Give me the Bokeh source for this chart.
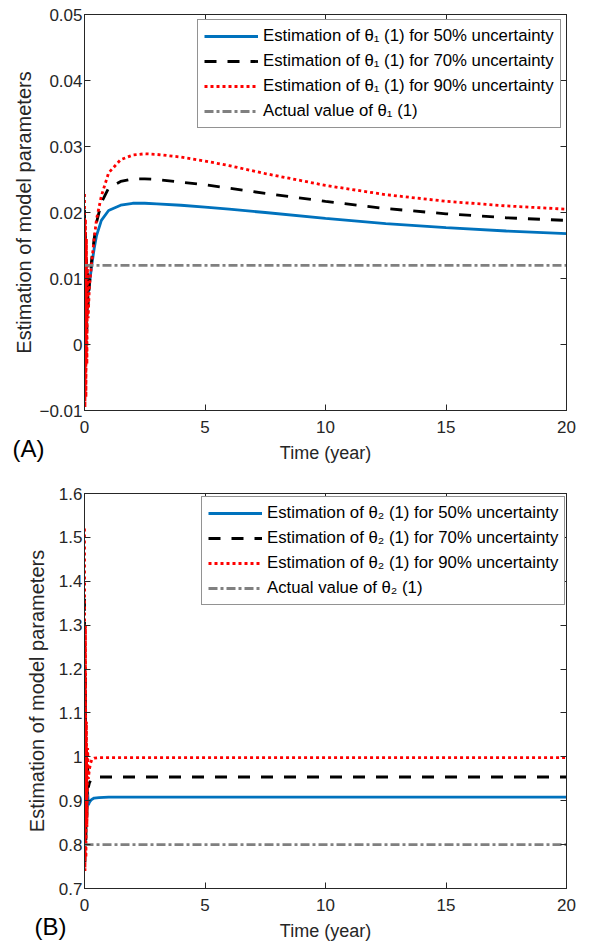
from bokeh.plotting import figure
from bokeh.models import Range1d, FixedTicker, LinearAxis, Title
from bokeh.layouts import column
from bokeh.embed import file_html
from bokeh.resources import INLINE

# ---------------- data ----------------
x_ticks = [0, 5, 10, 15, 20]

# Panel (A): theta_1(1)
t_a = [0, 0.02, 0.04, 0.06, 0.08, 0.10, 0.12, 0.15, 0.20, 0.25, 0.30, 0.40, 0.50,
       0.70, 1.0, 1.5, 2.0, 2.5, 3.0, 4.0, 5.0, 6.0, 7.5, 10.0, 12.5, 15.0, 17.5, 20.0]
blue_a = [0.0180, 0.0040, 0.0150, 0.0030, 0.0120, 0.0050, 0.0100, 0.0075, 0.0090,
          0.0105, 0.0120, 0.0145, 0.0165, 0.0188, 0.0203, 0.0211, 0.0214, 0.0214,
          0.0213, 0.0211, 0.0208, 0.0205, 0.0200, 0.0191, 0.0183, 0.0177, 0.0172, 0.0168]
black_a = [0.0204, -0.0030, 0.0170, -0.0020, 0.0130, 0.0020, 0.0110, 0.0060, 0.0090,
           0.0110, 0.0130, 0.0160, 0.0185, 0.0215, 0.0237, 0.0247, 0.0251, 0.0251,
           0.0250, 0.0246, 0.0242, 0.0237, 0.0229, 0.0217, 0.0206, 0.0198, 0.0192, 0.0188]
red_a = [0.0228, -0.0095, 0.0190, -0.0080, 0.0160, -0.0030, 0.0120, 0.0040, 0.0085,
         0.0105, 0.0125, 0.0160, 0.0190, 0.0225, 0.0260, 0.0280, 0.0287, 0.0289,
         0.0288, 0.0284, 0.0278, 0.0271, 0.0259, 0.0241, 0.0227, 0.0217, 0.0210, 0.0205]
actual_a = 0.012
y_ticks_a = [-0.01, 0, 0.01, 0.02, 0.03, 0.04, 0.05]
y_labels_a = ["\u22120.01", "0", "0.01", "0.02", "0.03", "0.04", "0.05"]

# Panel (B): theta_2(1)
t_b = [0, 0.02, 0.04, 0.06, 0.08, 0.10, 0.13, 0.16, 0.20, 0.25, 0.30, 0.40, 0.60,
       1.0, 2.0, 5.0, 10.0, 15.0, 20.0]
blue_b = [1.200, 0.870, 1.050, 0.880, 0.960, 0.885, 0.920, 0.890, 0.896, 0.900,
          0.903, 0.906, 0.907, 0.908, 0.908, 0.908, 0.908, 0.908, 0.908]
black_b = [1.360, 0.760, 1.180, 0.800, 1.020, 0.860, 0.980, 0.930, 0.940, 0.946,
           0.950, 0.953, 0.954, 0.954, 0.954, 0.954, 0.954, 0.954, 0.954]
red_b = [1.520, 0.740, 1.300, 0.770, 1.080, 0.840, 1.020, 0.950, 0.970, 0.985,
         0.993, 0.997, 0.998, 0.998, 0.998, 0.998, 0.998, 0.998, 0.998]
actual_b = 0.8
y_ticks_b = [0.7, 0.8, 0.9, 1.0, 1.1, 1.2, 1.3, 1.4, 1.5, 1.6]
y_labels_b = ["0.7", "0.8", "0.9", "1", "1.1", "1.2", "1.3", "1.4", "1.5", "1.6"]

series_labels = ["50%", "70%", "90%"]
x_title = "Time (year)"
y_title = "Estimation of model parameters"

# ---------------- styles ----------------
FONT = "Liberation Sans"
AX = "#262626"
C_BLUE, C_BLACK, C_RED, C_GRAY = "#0072BD", "#000000", "#FF0000", "#808080"
LW = 2.8


def style_axis(ax, show_labels=True):
    ax.axis_line_color = AX
    ax.major_tick_line_color = AX
    ax.major_tick_in = 6
    ax.major_tick_out = 0
    ax.minor_tick_line_color = None
    ax.major_label_text_font = FONT
    ax.major_label_text_color = AX
    ax.major_label_text_font_size = "17px" if show_labels else "0px"
    ax.major_label_standoff = 2 if show_labels else 0
    ax.axis_label_text_font = FONT
    ax.axis_label_text_font_style = "normal"
    ax.axis_label_text_color = AX


def make_panel(h, bt, bb, yr, yt, yl, t, b, k, r, act, sub, tag, tag_off,
               y_title_standoff, legend_xy):
    p = figure(width=585, height=h, x_range=Range1d(0, 20), y_range=Range1d(*yr),
               output_backend="svg", toolbar_location=None,
               min_border_left=84, min_border_right=19,
               min_border_top=bt, min_border_bottom=bb)
    p.grid.visible = False
    p.outline_line_color = AX
    p.background_fill_color = "white"
    p.border_fill_color = "white"

    p.xaxis.ticker = FixedTicker(ticks=x_ticks)
    p.yaxis.ticker = FixedTicker(ticks=yt)
    p.yaxis.major_label_overrides = {v: s for v, s in zip(yt, yl)}
    style_axis(p.xaxis[0])
    style_axis(p.yaxis[0])
    p.yaxis.axis_label = y_title
    p.yaxis.axis_label_text_font_size = "20px"
    p.yaxis.axis_label_standoff = y_title_standoff
    p.xaxis.axis_label = x_title
    p.xaxis.axis_label_text_font_size = "18px"
    p.xaxis.major_label_standoff = 10
    p.xaxis.axis_label_standoff = 7

    top_ax = LinearAxis(ticker=FixedTicker(ticks=x_ticks))
    right_ax = LinearAxis(ticker=FixedTicker(ticks=yt))
    style_axis(top_ax, False)
    style_axis(right_ax, False)
    p.add_layout(top_ax, "above")
    p.add_layout(right_ax, "right")

    th = "\u03b8" + sub
    p.line(t, b, line_color=C_BLUE, line_width=LW,
           legend_label=f"Estimation of {th} (1) for {series_labels[0]} uncertainty")
    p.line(t, k, line_color=C_BLACK, line_width=LW, line_dash="12 11",
           legend_label=f"Estimation of {th} (1) for {series_labels[1]} uncertainty")
    p.line(t, r, line_color=C_RED, line_width=LW, line_dash="3 3",
           legend_label=f"Estimation of {th} (1) for {series_labels[2]} uncertainty")
    p.line([t[0], t[-1]], [act, act], line_color=C_GRAY, line_width=LW,
           line_dash="9 3 3 3", legend_label=f"Actual value of {th} (1)")

    lg = p.legend[0]
    lg.location = legend_xy
    lg.margin = 0
    lg.padding = 6
    lg.spacing = 5
    lg.glyph_width = 54
    lg.glyph_height = 20
    lg.label_standoff = 5
    lg.label_text_font = FONT
    lg.label_text_font_size = "16.75px"
    lg.label_text_color = "#000000"
    lg.border_line_color = AX
    lg.border_line_width = 1
    lg.background_fill_alpha = 1.0

    # panel tag "(A)" / "(B)" placed left of the x-axis title
    p.add_layout(Title(text=tag, align="left", vertical_align="top",
                       offset=tag_off, standoff=-62, text_font=FONT,
                       text_font_size="24px", text_font_style="normal",
                       text_color="#000000"), "below")
    return p


p1 = make_panel(470, 14, 60, (-0.01, 0.05), y_ticks_a, y_labels_a,
                t_a, blue_a, black_a, red_a, actual_a, "\u2081", "(A)", -72,
                1, (113, 282))
p2 = make_panel(473, 23, 54, (0.7, 1.6), y_ticks_b, y_labels_b,
                t_b, blue_b, black_b, red_b, actual_b, "\u2082", "(B)", -50,
                8, (117, 283))

layout = column(p1, p2, spacing=0)
open("out.html", "w").write(file_html(layout, INLINE))
